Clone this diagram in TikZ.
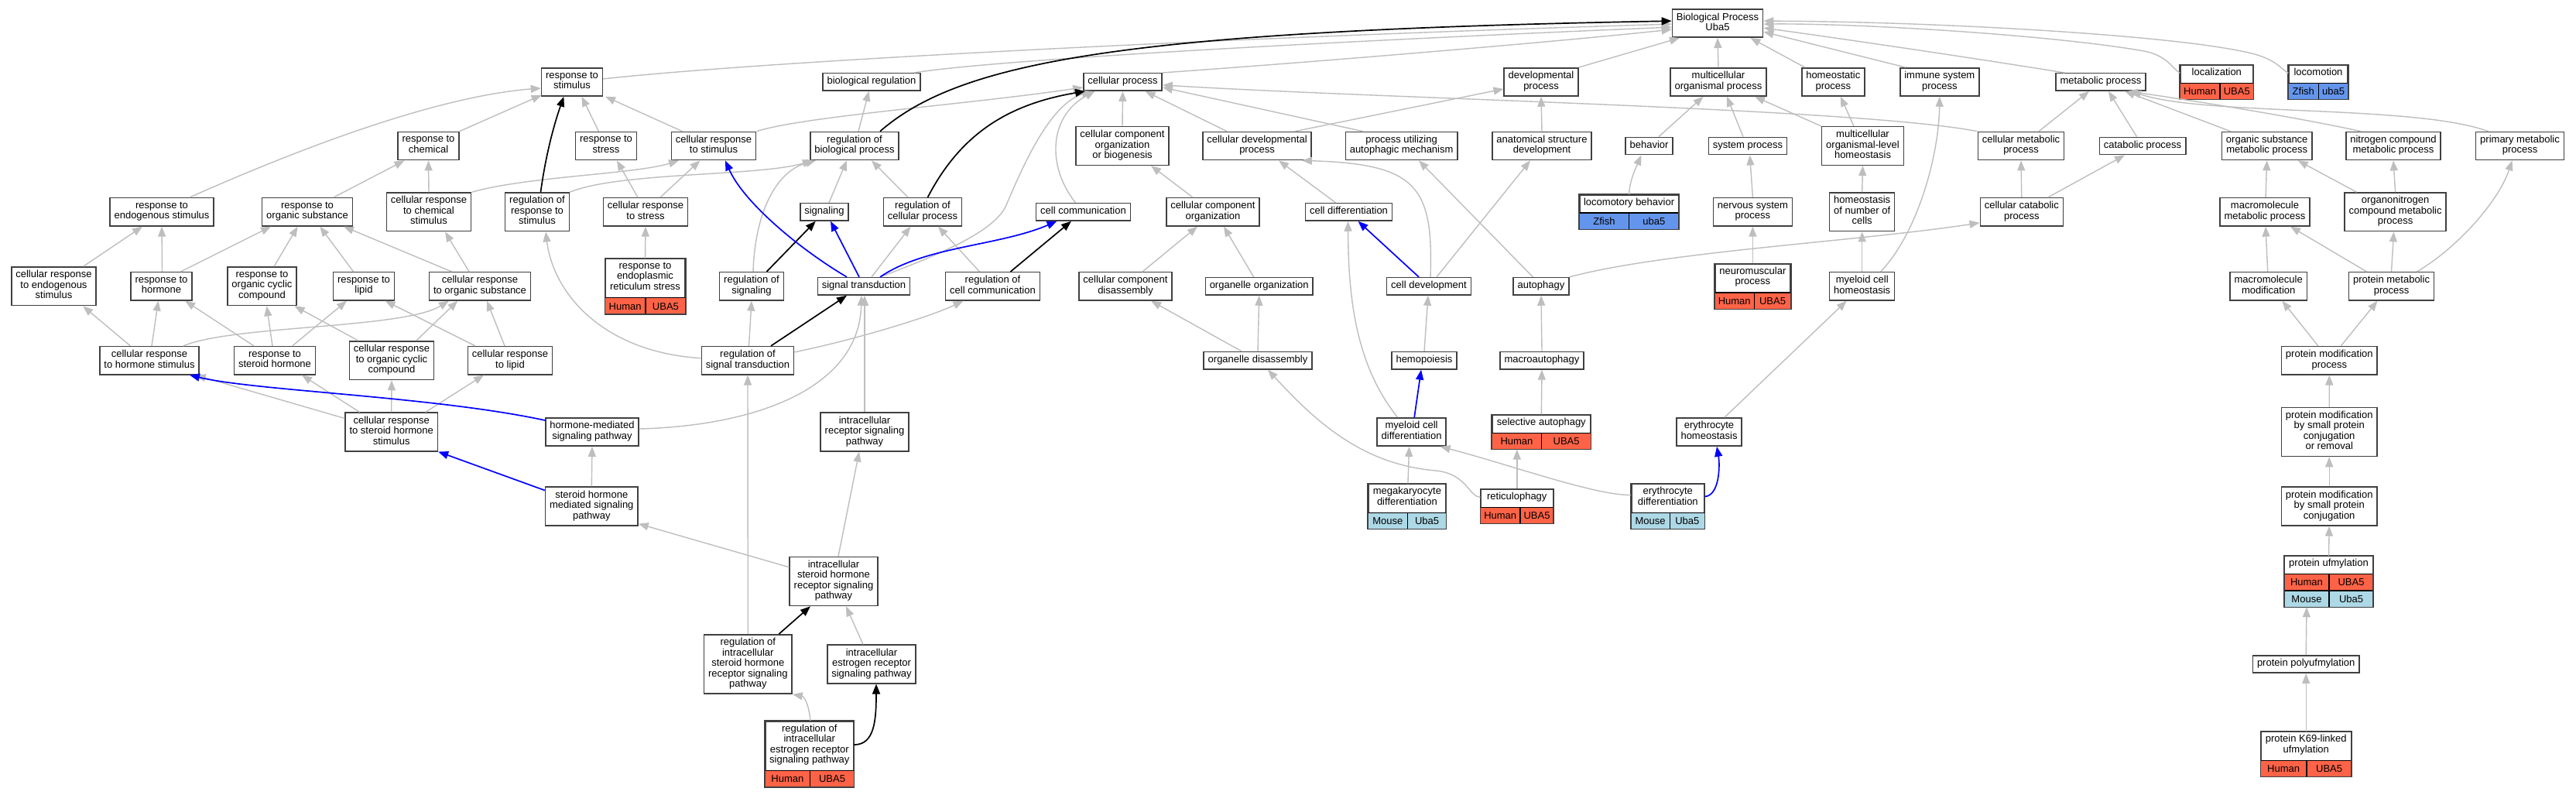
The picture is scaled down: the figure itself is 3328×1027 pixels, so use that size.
\documentclass[tikz,border=0pt]{standalone}
\usepackage{fontspec}
\setmainfont{Liberation Sans}
\usetikzlibrary{arrows.meta,calc}
\definecolor{edgegray}{RGB}{190,190,190}
\definecolor{boxc}{RGB}{64,64,64}
\definecolor{human}{RGB}{255,99,71}
\definecolor{mouse}{RGB}{173,216,230}
\definecolor{zfish}{RGB}{100,149,237}
\newcommand\gofont{\fontsize{13pt}{13.5pt}\selectfont}
\tikzset{
  gobox/.style={draw=boxc, line width=1.5pt, fill=white, inner xsep=5.5pt, inner ysep=1pt,
    align=center, font=\gofont, execute at begin node=\strut, execute at end node=\strut},
  l1/.style={gobox, minimum height=22.4pt},
  l2/.style={gobox, minimum height=36.2pt},
  l3/.style={gobox, minimum height=49.6pt},
  l4/.style={gobox, minimum height=63pt},
  l5/.style={gobox, minimum height=76.4pt},
  tbox/.style={draw=boxc, line width=1.5pt, fill=white, inner sep=0pt},
  htext/.style={inner sep=0pt, align=center, font=\gofont, execute at begin node=\strut, execute at end node=\strut},
  ctext/.style={inner sep=0pt, font=\gofont, text height=9.3pt, text depth=0pt},
  cellb/.style={draw=black, line width=1.3pt},
  tip/.style={-{Triangle[length=13pt,width=10pt]}},
  eg/.style={tip, draw=edgegray, line width=1.4pt},
  ek/.style={tip, draw=black, line width=1.7pt},
  eb/.style={tip, draw=blue, line width=1.7pt},
}
\newcommand\tabbox[7]{%
  \node[tbox, minimum width=#4pt, minimum height=#5pt] (#1) at (#2,#3) {};
  \node[htext] at ($(#1.north)+(0,#6/2)$) {#7};
}
\newcommand\tabrow[6]{%
  \pgfmathsetmacro\gtA{#3/2}\pgfmathsetmacro\gtB{(1+#3)/2}%
  \pgfmathsetmacro\gtY{-#2*21.3}\pgfmathsetmacro\gtYY{-#2*21.3-21.3}\pgfmathsetmacro\gtM{-#2*21.3-10.65}%
  \fill[#4] ($(#1.south west)+(0,\gtY)$) rectangle ($(#1.south east)+(0,\gtYY)$);
  \draw[cellb] ($(#1.south west)+(0,\gtYY)$) -- ($(#1.south east)+(0,\gtYY)$);
  \draw[cellb] ($(#1.south west)!#3!(#1.south east)+(0,\gtY)$) -- ($(#1.south west)!#3!(#1.south east)+(0,\gtYY)$);
  \node[ctext] at ($(#1.south west)!\gtA!(#1.south east)+(0,\gtM)$) {#5};
  \node[ctext] at ($(#1.south west)!\gtB!(#1.south east)+(0,\gtM)$) {#6};
}
\newcommand\tabframe[1]{\draw[draw=boxc, line width=1.5pt] (#1.south west) rectangle (#1.north east);}
\newcommand\gedge[5][eg]{\draw[#1] ($(#2.north)+(#3,0)$) -- ($(#4.south)+(#5,0)$);}
\begin{document}
\begin{tikzpicture}[x=1pt,y=-1pt]
\fill[white] (0,0) rectangle (3328,1027);
\useasboundingbox (0,0) rectangle (3328,1027);
% ---------------- rank 0
\node[l2] (bp) at (2219,30.1) {Biological Process\\Uba5};
% ---------------- rank 1
\node[l2] (rstim) at (739,105.9) {response to\\stimulus};
\node[l1] (breg) at (1126,105.9) {biological regulation};
\node[l1] (cp) at (1450.5,105.9) {cellular process};
\node[l2] (dp) at (1991,105.9) {developmental\\process};
\node[l2] (mop) at (2220,105.9) {multicellular\\organismal process};
\node[l2] (hp) at (2368.3,105.9) {homeostatic\\process};
\node[l2] (isp) at (2505.8,105.9) {immune system\\process};
\node[l1] (mp) at (2714,105.9) {metabolic process};
\tabbox{loc}{2863.8}{105.9}{93.8}{43.7}{22.4}{localization}
\tabrow{loc}{0}{0.544}{human}{Human}{UBA5}
\tabframe{loc}
\tabbox{locom}{2995}{105.9}{76.2}{43.7}{22.4}{locomotion}
\tabrow{locom}{0}{0.505}{zfish}{Zfish}{uba5}
\tabframe{locom}
% ---------------- rank 2
\node[l2] (rchem) at (553.5,188.5) {response to\\chemical};
\node[l2] (rstress) at (783,188.5) {response to\\stress};
\node[l2] (crstim) at (922,188.5) {cellular response\\to stimulus};
\node[l2] (rbp) at (1104,188.5) {regulation of\\biological process};
\node[l3] (ccob) at (1450,188.5) {cellular component\\organization\\or biogenesis};
\node[l2] (cdp) at (1624,188.5) {cellular developmental\\process};
\node[l2] (pua) at (1810.6,188.5) {process utilizing\\autophagic mechanism};
\node[l2] (asd) at (1992,188.5) {anatomical structure\\development};
\node[l1] (beh) at (2130.5,188.5) {behavior};
\node[l1] (sp) at (2258,188.5) {system process};
\node[l3] (moh) at (2406.5,188.5) {multicellular\\organismal-level\\homeostasis};
\node[l2] (cmp) at (2611,188.5) {cellular metabolic\\process};
\node[l1] (catp) at (2768,188.5) {catabolic process};
\node[l2] (osmp) at (2928.7,188.5) {organic substance\\metabolic process};
\node[l2] (ncmp) at (3092,188.5) {nitrogen compound\\metabolic process};
\node[l2] (pmp) at (3255.5,188.5) {primary metabolic\\process};
% ---------------- rank 3
\node[l2] (rendo) at (209,273.8) {response to\\endogenous stimulus};
\node[l2] (rorg) at (397,273.8) {response to\\organic substance};
\node[l3] (crchem) at (554,273.8) {cellular response\\to chemical\\stimulus};
\node[l3] (rrstim) at (694,273.8) {regulation of\\response to\\stimulus};
\node[l2] (crstress) at (834,273.8) {cellular response\\to stress};
\node[l1] (signaling) at (1065,273.8) {signaling};
\node[l2] (rcp) at (1192,273.8) {regulation of\\cellular process};
\node[l1] (cc) at (1399.5,273.8) {cell communication};
\node[l2] (cco) at (1567,273.8) {cellular component\\organization};
\node[l1] (cdiff) at (1742.5,273.8) {cell differentiation};
\tabbox{lb}{2104.6}{273.8}{127.3}{43.7}{22.4}{locomotory behavior}
\tabrow{lb}{0}{0.5}{zfish}{Zfish}{uba5}
\tabframe{lb}
\node[l2] (nsp) at (2264.4,273.8) {nervous system\\process};
\node[l3] (hnc) at (2405.7,273.8) {homeostasis\\of number of\\cells};
\node[l2] (ccatp) at (2611.8,273.8) {cellular catabolic\\process};
\node[l2] (mmp) at (2926,273.8) {macromolecule\\metabolic process};
\node[l3] (ocmp) at (3094.6,273.8) {organonitrogen\\compound metabolic\\process};
% ---------------- rank 4
\node[l3] (crendo) at (69.5,369.8) {cellular response\\to endogenous\\stimulus};
\node[l2] (rhorm) at (208.5,369.8) {response to\\hormone};
\node[l3] (rocc) at (338.5,369.8) {response to\\organic cyclic\\compound};
\node[l2] (rlipid) at (470,369.8) {response to\\lipid};
\node[l2] (crorg) at (620,369.8) {cellular response\\to organic substance};
\tabbox{rer}{833.5}{369.8}{103}{70.9}{49.6}{response to\\endoplasmic\\reticulum stress}
\tabrow{rer}{0}{0.506}{human}{Human}{UBA5}
\tabframe{rer}
\node[l2] (rsig) at (971,369.8) {regulation of\\signaling};
\node[l1] (st) at (1116,369.8) {signal transduction};
\node[l2] (rcc) at (1282.5,369.8) {regulation of\\cell communication};
\node[l2] (ccd) at (1454,369.8) {cellular component\\disassembly};
\node[l1] (oo) at (1626.7,369.8) {organelle organization};
\node[l1] (cdev) at (1846,369.8) {cell development};
\node[l1] (autoph) at (1991,369.8) {autophagy};
\tabbox{nmp}{2264.4}{369.8}{97.2}{57.5}{36.2}{neuromuscular\\process}
\tabrow{nmp}{0}{0.52}{human}{Human}{UBA5}
\tabframe{nmp}
\node[l2] (mch) at (2405.7,369.8) {myeloid cell\\homeostasis};
\node[l2] (mmod) at (2930.7,369.8) {macromolecule\\modification};
\node[l2] (protmp) at (3089.5,369.8) {protein metabolic\\process};
% ---------------- rank 5
\node[l2] (crhorm) at (193,465.7) {cellular response\\to hormone stimulus};
\node[l2] (rster) at (355,465.7) {response to\\steroid hormone};
\node[l3] (crocc) at (506,465.7) {cellular response\\to organic cyclic\\compound};
\node[l2] (crlipid) at (659,465.7) {cellular response\\to lipid};
\node[l2] (rst) at (966,465.7) {regulation of\\signal transduction};
\node[l1] (od) at (1625,465.7) {organelle disassembly};
\node[l1] (hemo) at (1840,465.7) {hemopoiesis};
\node[l1] (macro) at (1992,465.7) {macroautophagy};
\node[l2] (pmodp) at (3009.3,465.7) {protein modification\\process};
% ---------------- rank 6
\node[l3] (crster) at (505.7,558) {cellular response\\to steroid hormone\\stimulus};
\node[l2] (hmsp) at (765,558) {hormone-mediated\\signaling pathway};
\node[l3] (irsp) at (1117,558) {intracellular\\receptor signaling\\pathway};
\node[l2] (mcd) at (1823.6,558) {myeloid cell\\differentiation};
\tabbox{sa}{1991.3}{558}{126.8}{43.7}{22.4}{selective autophagy}
\tabrow{sa}{0}{0.504}{human}{Human}{UBA5}
\tabframe{sa}
\node[l2] (eh) at (2208,558) {erythrocyte\\homeostasis};
\node[l4] (pmsr) at (3009.2,558) {protein modification\\by small protein\\conjugation\\or removal};
% ---------------- rank 7
\node[l3] (shmsp) at (764.3,654) {steroid hormone\\mediated signaling\\pathway};
\tabbox{mkd}{1817.9}{654}{100}{57.5}{36.2}{megakaryocyte\\differentiation}
\tabrow{mkd}{0}{0.507}{mouse}{Mouse}{Uba5}
\tabframe{mkd}
\tabbox{retic}{1959.8}{654}{93.2}{43.7}{22.4}{reticulophagy}
\tabrow{retic}{0}{0.544}{human}{Human}{UBA5}
\tabframe{retic}
\tabbox{ed}{2154.8}{654}{93.9}{57.5}{36.2}{erythrocyte\\differentiation}
\tabrow{ed}{0}{0.525}{mouse}{Mouse}{Uba5}
\tabframe{ed}
\node[l3] (pmsc) at (3009.2,654) {protein modification\\by small protein\\conjugation};
% ---------------- rank 8
\node[l4] (ishr) at (1077,751) {intracellular\\steroid hormone\\receptor signaling\\pathway};
\tabbox{pufm}{3008.5}{751}{113.6}{65}{22.4}{protein ufmylation}
\tabrow{pufm}{1}{0.504}{human}{Human}{UBA5}
\tabrow{pufm}{0}{0.504}{mouse}{Mouse}{Uba5}
\tabframe{pufm}
% ---------------- rank 9
\node[l5] (rishr) at (966.3,858) {regulation of\\intracellular\\steroid hormone\\receptor signaling\\pathway};
\node[l3] (ier) at (1126,858) {intracellular\\estrogen receptor\\signaling pathway};
\node[l1] (ppoly) at (2979.2,858) {protein polyufmylation};
% ---------------- rank 10
\tabbox{rier}{1045.8}{974}{113.7}{84.3}{63}{regulation of\\intracellular\\estrogen receptor\\signaling pathway}
\tabrow{rier}{0}{0.507}{human}{Human}{UBA5}
\tabframe{rier}
\tabbox{k69}{2979.2}{974}{116.3}{57.5}{36.2}{protein K69-linked\\ufmylation}
\tabrow{k69}{0}{0.507}{human}{Human}{UBA5}
\tabframe{k69}

% ================= gray edges
\draw[eg] ($(rendo.north)+(36,0)$) .. controls (380,195) and (560,125) .. ($(rstim.west)+(0,8)$);
\draw[eg] (rchem.north east) -- ($(rstim.south west)+(1,-2)$);
\draw[eg] ($(rstim.east)+(0,-4)$) .. controls (1000,78) and (1600,48) .. ($(bp.west)+(0,1)$);
\draw[eg] ($(breg.north)+(55,0)$) .. controls (1300,75) and (1800,50) .. ($(bp.west)+(0,5)$);
\draw[eg] (cp.north east) .. controls (1700,80) and (2000,55) .. ($(bp.west)+(0,8)$);
\draw[eg] (crstim.north east) .. controls (1040,150) and (1250,135) .. ($(cp.west)+(0,7)$);
\draw[eg] (crchem.north east) .. controls (680,228) and (820,225) .. ($(crstim.south)+(-45,0)$);
\draw[eg] (rrstim.north east) .. controls (800,222) and (980,228) .. ($(rbp.south)+(-54,0)$);
\draw[eg] ($(rsig.north)+(2,0)$) .. controls (975,280) and (1000,222) .. ($(rbp.south)+(-50,0)$);
\draw[eg] ($(rst.north east)+(0,8)$) .. controls (1100,440) and (1200,410) .. ($(rcc.south)+(-38,0)$);
\draw[eg] ($(rst.west)+(0,-3)$) .. controls (780,455) and (715,380) .. ($(rrstim.south)+(11,0)$);
\draw[eg] ($(hmsp.east)+(0,-4)$) .. controls (980,550) and (1110,500) .. ($(st.south)+(-3,0)$);
\draw[eg] ($(cc.north)+(-10,0)$) .. controls (1352,215) and (1355,150) .. ($(cp.south)+(-36,0)$);
\draw[eg] ($(st.north)+(21,0)$) .. controls (1210,330) and (1285,300) .. (1300,265) .. controls (1319.5,219.5) and (1355,135) .. ($(cp.south)+(-40,0)$);
\draw[eg] ($(pua.north)+(-50,0)$) -- ($(cp.east)+(0,7)$);
\draw[eg] (cmp.north west) .. controls (2400,140) and (1800,128) .. ($(cp.east)+(0,4)$);
\draw[eg] ($(cdp.north)+(49,0)$) -- ($(dp.west)+(0,9)$);
\draw[eg] (dp.north east) -- ($(bp.south)+(-49,0)$);
\draw[eg] (moh.north west) -- ($(mop.south)+(47,0)$);
\draw[eg] (lb.north) .. controls (2105,235) and (2112,220) .. ($(beh.south)+(-10,0)$);
\draw[eg] ($(cdev.north)+(2,0)$) .. controls (1852,240) and (1830,212) .. ($(cdp.south)+(58,0)$);
\draw[eg] (autoph.north east) .. controls (2150,325) and (2400,312) .. ($(ccatp.west)+(0,14)$);
\draw[eg] ($(mcd.north)+(-18,0)$) .. controls (1750,470) and (1742,380) .. ($(cdiff.south)+(-1,0)$);
\draw[eg] ($(retic.north west)+(0,11)$) .. controls (1898,642) and (1895,612) .. (1855,608) .. controls (1760,600) and (1700,545) .. ($(od.south)+(13,0)$);
\draw[eg] ($(ed.north west)+(0,15)$) .. controls (2060,640) and (1950,600) .. ($(mcd.south)+(37,0)$);
\draw[eg] ($(mch.north)+(24,0)$) .. controls (2478,300) and (2505,200) .. (isp.south);
\draw[eg] ($(hp.north)+(-36.5,0)$) -- ($(bp.south east)+(-17,0)$);
\draw[eg] ($(isp.north)+(-44,0)$) -- ($(bp.east)+(0,11)$);
\draw[eg] ($(mp.north)+(-47,0)$) .. controls (2550,75) and (2380,50) .. ($(bp.east)+(0,6)$);
\draw[eg] ($(loc.north west)+(0,11)$) .. controls (2806,88) and (2800,72) .. (2770,66) .. controls (2650,45) and (2400,30) .. ($(bp.east)+(0,1)$);
\draw[eg] ($(locom.north west)+(0,11)$) .. controls (2945,88) and (2940,75) .. (2900,67) .. controls (2800,45) and (2500,28) .. ($(bp.east)+(0,-3)$);
\draw[eg] ($(ncmp.north)+(-42,0)$) .. controls (2960,150) and (2820,128) .. ($(mp.south)+(35,0)$);
\draw[eg] ($(pmp.north)+(-41,0)$) .. controls (3120,135) and (2850,150) .. ($(mp.south)+(39,0)$);
\draw[eg] ($(protmp.north)+(33,0)$) .. controls (3175,320) and (3228,260) .. ($(pmp.south)+(-10,0)$);
\draw[eg] ($(ishr.north west)+(0,14)$) -- ($(shmsp.south east)+(0,-3)$);
\draw[eg] ($(rier.north)+(1,0)$) .. controls (1046,915) and (1040,900) .. (rishr.south east);
\draw[eg] ($(crster.north west)+(0,8)$) -- ($(crhorm.south east)+(-5,0)$);
\draw[eg] ($(crhorm.north)+(44,0)$) .. controls (300,420) and (520,425) .. ($(crorg.south)+(-40,0)$);
\gedge{rorg}{34}{rchem}{-31}
\gedge{crchem}{0}{rchem}{0}
\gedge{crendo}{38}{rendo}{-25}
\gedge{rhorm}{1}{rendo}{0}
\gedge{rhorm}{25}{rorg}{-47}
\gedge{rocc}{15.5}{rorg}{-12.4}
\gedge{rlipid}{-13.4}{rorg}{16.3}
\gedge{crorg}{-36.4}{rorg}{47}
\gedge{crorg}{-14}{crchem}{21}
\gedge{crhorm}{-24.6}{crendo}{37.7}
\gedge{crhorm}{3}{rhorm}{-4}
\gedge{rster}{-27}{rhorm}{30.7}
\gedge{rster}{-3}{rocc}{6}
\gedge{rster}{22.7}{rlipid}{-22}
\gedge{crocc}{-43}{rocc}{42}
\gedge{crocc}{31.7}{crorg}{-28.7}
\gedge{crlipid}{-45}{rlipid}{27.5}
\gedge{crlipid}{-7}{crorg}{9}
\gedge{crster}{-41}{rster}{35}
\gedge{crster}{0}{crocc}{0}
\gedge{crster}{44}{crlipid}{-34}
\gedge{shmsp}{0}{hmsp}{0}
\gedge{rstress}{-9.5}{rstim}{12.4}
\gedge{crstim}{-40.5}{rstim}{43}
\gedge{rbp}{5}{breg}{-3.4}
\gedge{crstress}{-10}{rstress}{14}
\gedge{crstress}{19}{crstim}{-17.6}
\gedge{rer}{0}{crstress}{0}
\gedge{signaling}{6}{rbp}{-10}
\gedge{rcp}{-19}{rbp}{22}
\gedge{st}{10}{rcp}{-15.6}
\gedge{rst}{1.5}{rsig}{0}
\gedge{irsp}{0}{st}{1}
\gedge{rcc}{-17}{rcp}{20}
\gedge{ccob}{0}{cp}{0}
\gedge{cdp}{-39}{cp}{29}
\gedge{cco}{-26}{ccob}{37}
\gedge{ccd}{22}{cco}{-20}
\gedge{oo}{-7}{cco}{14}
\gedge{od}{0}{oo}{0}
\gedge{od}{-21}{ccd}{33}
\gedge{asd}{0}{dp}{0}
\gedge{mop}{0}{bp}{0}
\gedge{beh}{12.5}{mop}{-19.5}
\gedge{sp}{-6}{mop}{11}
\gedge{nsp}{0}{sp}{2.6}
\gedge{nmp}{0}{nsp}{0}
\gedge{cdiff}{-17}{cdp}{28}
\gedge{cdev}{10}{asd}{-15}
\gedge{autoph}{-10.6}{pua}{22.4}
\gedge{hemo}{0}{cdev}{-1}
\gedge{macro}{0}{autoph}{0}
\gedge{sa}{0}{macro}{0}
\gedge{retic}{0}{sa}{-31.5}
\gedge{mkd}{1}{mcd}{-3}
\gedge{eh}{20}{mch}{-20}
\gedge{mch}{0}{hnc}{0}
\gedge{hnc}{0}{moh}{0}
\gedge{moh}{-11.5}{hp}{9.5}
\gedge{cmp}{23}{mp}{-15}
\gedge{catp}{-7.5}{mp}{10}
\gedge{osmp}{-47}{mp}{31}
\gedge{ccatp}{0}{cmp}{0}
\gedge{ccatp}{34}{catp}{-23}
\gedge{mmp}{1}{osmp}{0}
\gedge{ocmp}{-50}{osmp}{40}
\gedge{ocmp}{0}{ncmp}{0}
\gedge{mmod}{-1}{mmp}{1}
\gedge{protmp}{-32}{mmp}{33}
\gedge{protmp}{0}{ocmp}{-2}
\gedge{pmodp}{-14.5}{mmod}{17.7}
\gedge{pmodp}{15}{protmp}{-18}
\gedge{pmsr}{0}{pmodp}{0}
\gedge{pmsc}{0}{pmsr}{0}
\gedge{pufm}{0}{pmsc}{0}
\gedge{ppoly}{0}{pufm}{-28.5}
\gedge{k69}{0}{ppoly}{0}
\gedge{ishr}{6}{irsp}{-7}
\gedge{rishr}{0}{rst}{0}
\gedge{ier}{-11}{ishr}{16}
% ================= black edges
\draw[ek] ($(rbp.north)+(33,0)$) .. controls (1240,80) and (1450,40) .. ($(bp.west)+(0,-3)$);
\draw[ek] ($(rrstim.north)+(4.5,0)$) .. controls (705,200) and (716,160) .. ($(rstim.south)+(-10.6,0)$);
\draw[ek] ($(rcp.north)+(6.5,0)$) .. controls (1240,175) and (1300,135) .. ($(cp.south west)+(3,0)$);
\draw[ek] ($(rier.north east)+(0,31)$) .. controls (1130,962) and (1132,930) .. ($(ier.south)+(6,0)$);
\gedge[ek]{rsig}{19.5}{signaling}{-11.3}
\gedge[ek]{rst}{30}{st}{-22}
\gedge[ek]{rcc}{23}{cc}{-15.5}
\gedge[ek]{rishr}{40}{ishr}{-30}
% ================= blue edges
\draw[eb] ($(st.north)+(-22,0)$) .. controls (1030,320) and (960,260) .. ($(crstim.south)+(15,0)$);
\draw[eb] ($(st.north)+(21,0)$) .. controls (1195,318) and (1290,318) .. ($(cc.south)+(-34,0)$);
\draw[eb] ($(hmsp.west)+(0,-15)$) .. controls (560,512) and (330,505) .. ($(crhorm.south)+(52,0)$);
\draw[eb] ($(shmsp.north west)+(0,5)$) -- (crster.south east);
\draw[eb] ($(ed.north east)+(0,17)$) .. controls (2222,640) and (2222,600) .. ($(eh.south)+(10,0)$);
\gedge[eb]{st}{-6}{signaling}{8}
\gedge[eb]{cdev}{-13}{cdiff}{12}
\gedge[eb]{mcd}{3.6}{hemo}{-4}
\end{tikzpicture}
\end{document}
